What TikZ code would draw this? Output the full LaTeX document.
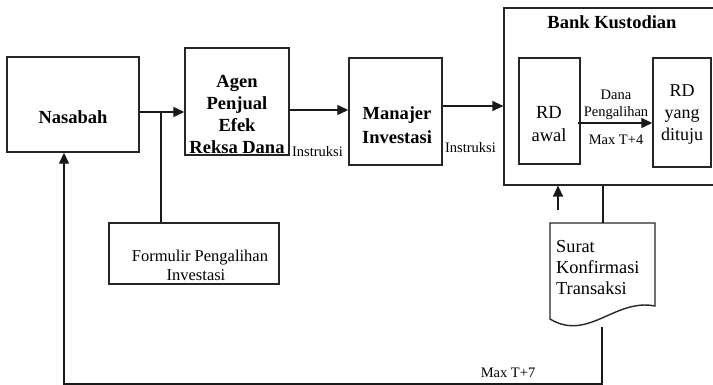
\documentclass[tikz,border=0pt]{standalone}
\usepackage{fontspec}
\setmainfont{Liberation Serif}
\usetikzlibrary{arrows.meta}
\begin{document}
\begin{tikzpicture}[x=1pt,y=-1pt,
  box/.style={draw=black!85, line width=1.4pt, inner sep=0pt},
  con/.style={draw=black!90, line width=1.3pt},
  arr/.style={con,-{Triangle[length=11pt,width=10pt]}},
  bigb/.style={font=\fontsize{18.5}{21.7}\selectfont\bfseries, align=center, inner sep=0pt},
  bign/.style={font=\fontsize{18}{22}\selectfont, align=center, inner sep=0pt},
  smalltxt/.style={font=\fontsize{14.5}{14}\selectfont, inner sep=0pt}
]
\useasboundingbox (0,0) rectangle (713,385);
% boxes
\node[box, minimum width=132pt, minimum height=95pt] (nas) at (73,104.5) {};
\node[box, minimum width=104pt, minimum height=107pt] (agen) at (237,101.5) {};
\node[box, minimum width=93pt, minimum height=107pt] (man) at (395.5,111.5) {};
\node[box, line width=1.2pt, minimum width=212pt, minimum height=177pt] (bank) at (610,96.5) {};
\node[box, minimum width=61pt, minimum height=106pt] (rda) at (549.5,111) {};
\node[box, minimum width=58pt, minimum height=109pt] (rdt) at (682,112.5) {};
\node[box, minimum width=170pt, minimum height=61pt] (form) at (194,253.5) {};
% document shape
\draw[box] (550,223) -- (655,223) -- (655,306) .. controls (615,298) and (588,342) .. (550,319) -- cycle;
\coordinate (docT) at (603,223);
\coordinate (docB) at (602,327);
% texts
\node[bigb] (nasT) at (73,117) {Nasabah};
\node[bigb] (agenT) at (237,114.5) {Agen\\Penjual\\Efek\\Reksa Dana};
\node[bigb, font=\fontsize{18.5}{24}\selectfont\bfseries] (manT) at (397,125) {Manajer\\Investasi};
\node[bigb] (bankT) at (612,22) {Bank Kustodian};
\node[bign, font=\fontsize{18.5}{23}\selectfont] (rdaT) at (549,124.5) {RD\\awal};
\node[bign] (rdtT) at (682,115) {RD\\yang\\dituju};
\node[bign, font=\fontsize{16.5}{19}\selectfont] (formT) at (196,265.5) {\hspace*{8pt}Formulir Pengalihan\\Investasi};
\node[bign, align=left, anchor=west, font=\fontsize{18.3}{21}\selectfont] (suratT) at (556,268) {Surat\\Konfirmasi\\Transaksi};
\node[smalltxt] (ins1) at (317.5,152) {Instruksi};
\node[smalltxt] (ins2) at (470.5,148) {Instruksi};
\node[smalltxt] (dana) at (616,95) {Dana};
\node[smalltxt] (peng) at (616,113) {Pengalihan};
\node[smalltxt] (max4) at (616,140) {Max T+4};
\node[smalltxt] (max7) at (508,373) {Max T+7};
% connectors
\coordinate (j1) at (161,112);
\draw[arr] (nas.east |- j1) -- (agen.west |- j1);
\draw[con] (j1) -- (form.north -| j1);
\coordinate (a2) at (300,110);
\draw[arr] (agen.east |- a2) -- (man.west |- a2);
\coordinate (a3) at (470,106);
\draw[arr] (man.east |- a3) -- (bank.west |- a3);
\coordinate (a4) at (600,123);
\draw[arr] ([xshift=-3pt]rda.east |- a4) -- (rdt.west |- a4);
\coordinate (u1) at (558,210);
\draw[arr] (u1) -- (bank.south -| u1);
\draw[con] (bank.south -| docT) -- (docT);
\coordinate (c1) at (602,384);
\coordinate (c2) at (64,384);
\draw[arr] (docB) -- (c1) -- (c2) -- (nas.south -| c2);
\end{tikzpicture}
\end{document}
